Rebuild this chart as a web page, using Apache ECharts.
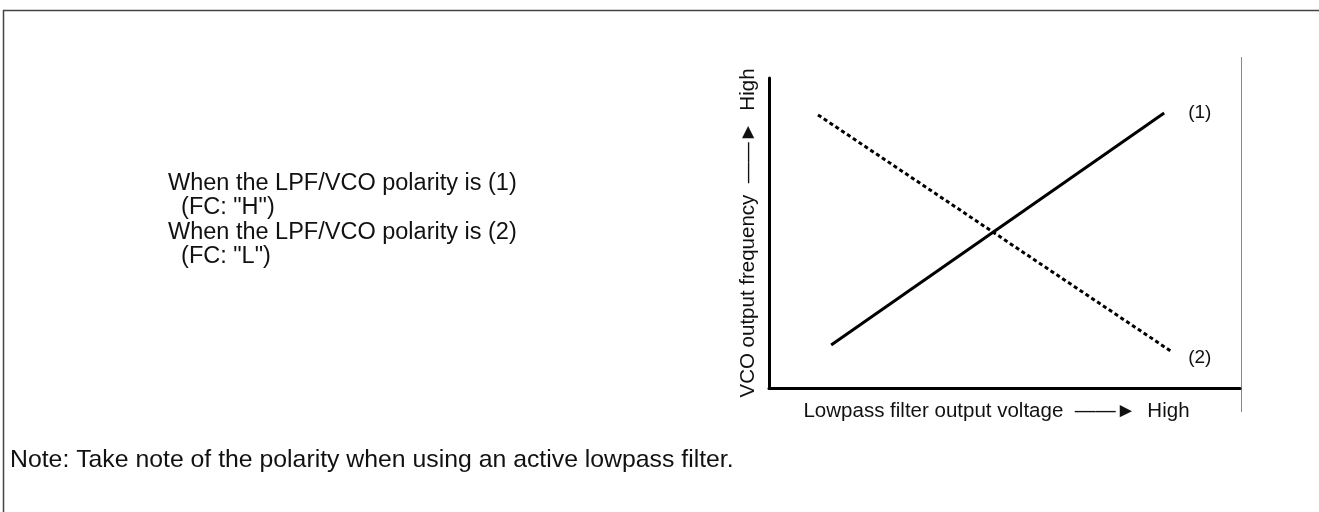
<!DOCTYPE html>
<html>
<head>
<meta charset="utf-8">
<title>LPF/VCO polarity</title>
<script src="https://cdn.jsdelivr.net/npm/echarts@6/dist/echarts.min.js"></script>
<style>
  html, body { margin: 0; padding: 0; background: #fff; }
  #chart { width: 1319px; height: 512px; }
</style>
</head>
<body>
<div id="chart"></div>
<script>
// polarity (1): frequency rises with filter voltage
var polarity1 = [[13.2, 13.9], [83.9, 88.7]];
// polarity (2): frequency falls with filter voltage
var polarity2 = [[10.4, 88.1], [85.6, 11.6]];
var lineNames = ['(1)', '(2)'];
var xName = 'Lowpass filter output voltage  \u2014\u2014\u25BA  High';
var yName = 'VCO output frequency  \u2014\u2014\u25BA  High';
var notes = [
    'When the LPF/VCO polarity is (1)',
    '  (FC: "H")',
    'When the LPF/VCO polarity is (2)',
    '  (FC: "L")'
];
var footNote = 'Note: Take note of the polarity when using an active lowpass filter.';

var font = '"Liberation Sans", Arial, Helvetica, sans-serif';
var chart = echarts.init(document.getElementById('chart'));

var option = {
    animation: false,
    textStyle: { fontFamily: font },
    grid: { left: 769, top: 78, width: 471, height: 310 },
    xAxis: {
        type: 'value', min: 0, max: 100,
        name: xName, nameLocation: 'middle', nameGap: 13,
        nameTextStyle: { color: '#111', fontSize: 20.5, fontFamily: font, padding: [0, 16, 0, 0] },
        axisLine: { lineStyle: { color: '#000', width: 3 } },
        axisTick: { show: false }, axisLabel: { show: false }, splitLine: { show: false }
    },
    yAxis: {
        type: 'value', min: 0, max: 100,
        name: yName, nameLocation: 'middle', nameGap: 10,
        nameTextStyle: { color: '#111', fontSize: 20.5, fontFamily: font },
        axisLine: { lineStyle: { color: '#000', width: 3 } },
        axisTick: { show: false }, axisLabel: { show: false }, splitLine: { show: false }
    },
    series: [
        {
            name: lineNames[0], type: 'line', data: polarity1, symbol: 'none',
            lineStyle: { color: '#000', width: 3 },
            endLabel: { show: true, formatter: lineNames[0], color: '#111', fontSize: 19, offset: [16, 0] }
        },
        {
            name: lineNames[1], type: 'line', data: polarity2, symbol: 'none',
            lineStyle: { color: '#000', width: 3, type: [4, 3] },
            endLabel: { show: true, formatter: lineNames[1], color: '#111', fontSize: 19, offset: [8, 6] }
        }
    ],
    graphic: [
        { type: 'line', shape: { x1: 3, y1: 10.5, x2: 1319, y2: 10.5 }, style: { stroke: '#444', lineWidth: 1.5 } },
        { type: 'line', shape: { x1: 3.5, y1: 10, x2: 3.5, y2: 512 }, style: { stroke: '#444', lineWidth: 1.5 } },
        { type: 'line', shape: { x1: 1241.5, y1: 57, x2: 1241.5, y2: 412 }, style: { stroke: '#888', lineWidth: 1 } },
        { type: 'text', left: 168, top: 171, style: { text: notes.join('\n'), font: '23.5px ' + font, fill: '#111', lineHeight: 24.5 } },
        { type: 'text', left: 10, top: 448, style: { text: footNote, font: '24.8px ' + font, fill: '#111' } }
    ]
};
chart.setOption(option);
</script>
</body>
</html>
